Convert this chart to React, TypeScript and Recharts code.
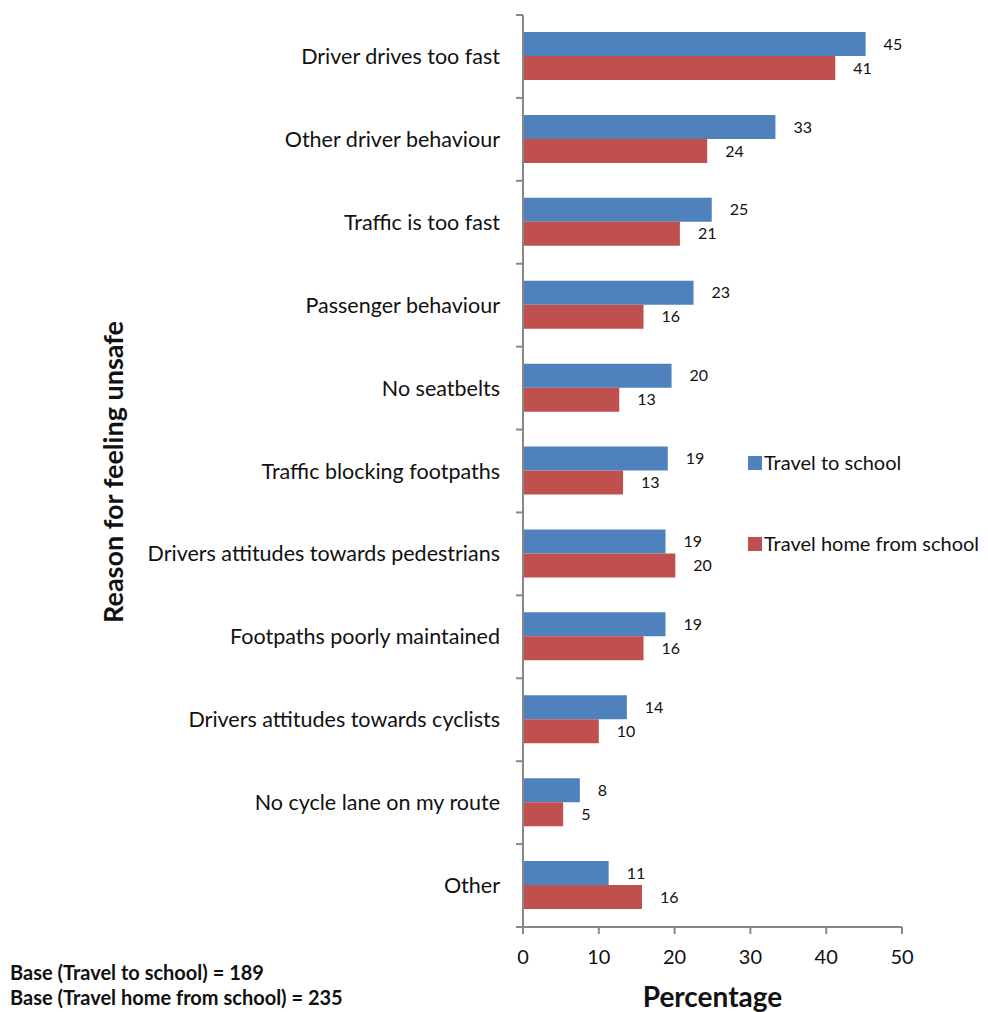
import { BarChart, Bar, XAxis, YAxis, LabelList, Label } from "recharts";

const reasons = [
  "Driver drives too fast",
  "Other driver behaviour",
  "Traffic is too fast",
  "Passenger behaviour",
  "No seatbelts",
  "Traffic blocking footpaths",
  "Drivers attitudes towards pedestrians",
  "Footpaths poorly maintained",
  "Drivers attitudes towards cyclists",
  "No cycle lane on my route",
  "Other",
];
const toSchool = [45.2, 33.3, 24.9, 22.5, 19.6, 19.1, 18.8, 18.8, 13.7, 7.5, 11.3];
const homeFromSchool = [41.2, 24.3, 20.7, 15.9, 12.7, 13.2, 20.1, 15.9, 10.0, 5.3, 15.7];
const xTicks = [0, 10, 20, 30, 40, 50];
const legendItems = ["Travel to school", "Travel home from school"];

const data = reasons.map((name, i) => ({ name, toSchool: toSchool[i], home: homeFromSchool[i] }));

const BLUE = "#4F81BD";
const RED = "#C0504D";
const GREY = "#888888";
const FONT = "Lato, 'Open Sans', sans-serif";

const TOP = 15;
const BOTTOM = 85;
const BAND = (1012 - TOP - BOTTOM) / reasons.length;

function CategoryTick(props: any) {
  const { x, y, payload, index } = props;
  return (
    <g>
      <line x1={x - 7} x2={x} y1={y - BAND / 2} y2={y - BAND / 2} stroke={GREY} strokeWidth={2} />
      {index === reasons.length - 1 && (
        <line x1={x - 7} x2={x} y1={y + BAND / 2} y2={y + BAND / 2} stroke={GREY} strokeWidth={2} />
      )}
      <text x={x - 23} y={y} dy="0.35em" textAnchor="end" fontSize={21.5} fill="#111" fontFamily={FONT}>
        {payload.value}
      </text>
    </g>
  );
}

export default function App() {
  const colors = [BLUE, RED];
  return (
    <div style={{ position: "absolute", left: 0, top: 0, width: 988, height: 1012, background: "#fff" }}>
      <BarChart
        width={988}
        height={1012}
        data={data}
        layout="vertical"
        margin={{ top: TOP, right: 86, left: 0, bottom: 0 }}
        barSize={24}
        barGap={0}
      >
        <XAxis
          type="number"
          domain={[0, 50]}
          ticks={xTicks}
          height={BOTTOM}
          tick={{ fontSize: 20, fill: "#111", fontFamily: FONT }}
          tickLine={{ stroke: GREY, strokeWidth: 2 }}
          axisLine={{ stroke: GREY, strokeWidth: 2 }}
          tickSize={7}
          tickMargin={16}
        >
          <Label
            value="Percentage"
            position="insideBottom"
            offset={5}
            style={{ fontSize: 28, fontWeight: 700, fill: "#111", fontFamily: FONT }}
          />
        </XAxis>
        <YAxis
          type="category"
          dataKey="name"
          width={523}
          tick={<CategoryTick />}
          tickLine={false}
          tickSize={0}
          tickMargin={0}
          interval={0}
          axisLine={{ stroke: GREY, strokeWidth: 2 }}
        />
        <Bar dataKey="toSchool" name="Travel to school" fill={BLUE} isAnimationActive={false}>
          <LabelList
            dataKey="toSchool"
            position="right"
            offset={18}
            formatter={(v: any) => Math.round(v)}
            style={{ fontSize: 16, fill: "#111", fontFamily: FONT }}
          />
        </Bar>
        <Bar dataKey="home" name="Travel home from school" fill={RED} isAnimationActive={false}>
          <LabelList
            dataKey="home"
            position="right"
            offset={18}
            formatter={(v: any) => Math.round(v)}
            style={{ fontSize: 16, fill: "#111", fontFamily: FONT }}
          />
        </Bar>
        {legendItems.map((label, i) => (
          <g key={label}>
            <rect x={748} y={456 + i * 81} width={14} height={14} fill={colors[i]} />
            <text x={764} y={463 + i * 81} dy="0.35em" fontSize={20} fill="#111" fontFamily={FONT}>
              {label}
            </text>
          </g>
        ))}
        <text
          x={112}
          y={472}
          transform="rotate(-90, 112, 472)"
          textAnchor="middle"
          dominantBaseline="central"
          fontSize={27}
          fontWeight={700}
          fill="#111"
          fontFamily={FONT}
        >
          Reason for feeling unsafe
        </text>
        <text x={10} y={980} fontSize={20} fontWeight={700} fill="#111" fontFamily={FONT}>
          Base (Travel to school) = 189
        </text>
        <text x={10} y={1005} fontSize={20} fontWeight={700} fill="#111" fontFamily={FONT}>
          Base (Travel home from school) = 235
        </text>
      </BarChart>
    </div>
  );
}
